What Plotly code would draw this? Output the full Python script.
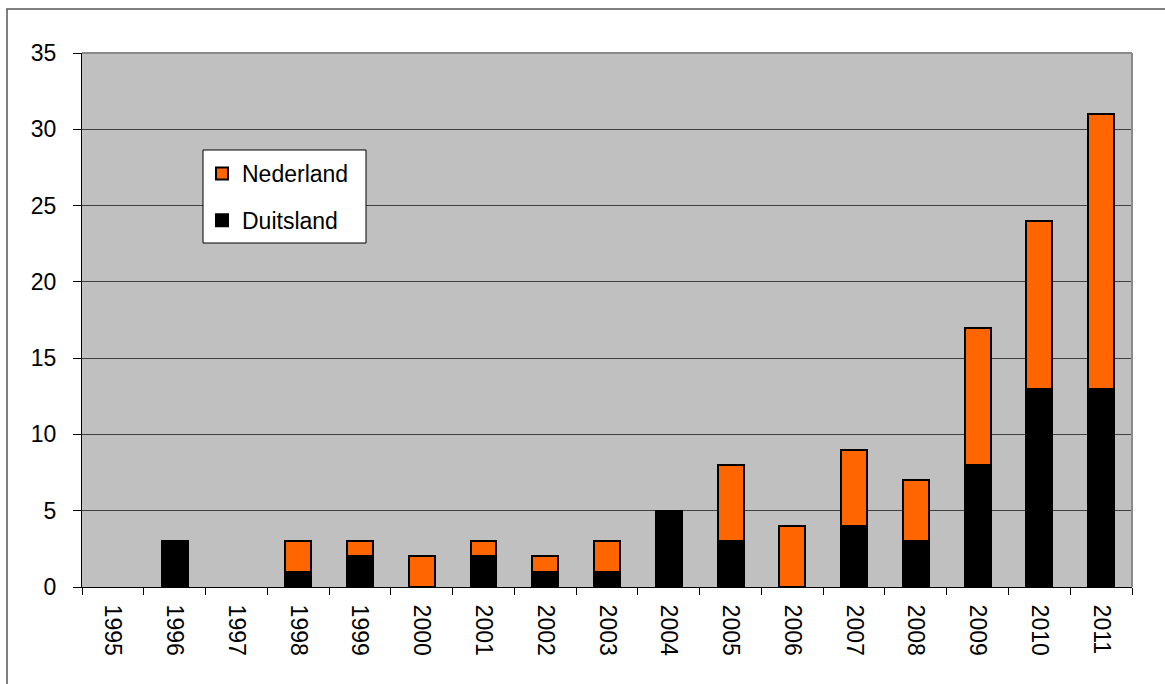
import plotly.graph_objects as go

years = [str(y) for y in range(1995, 2012)]
duitsland = [0, 3, 0, 1, 2, 0, 2, 1, 1, 5, 3, 0, 4, 3, 8, 13, 13]
nederland = [0, 0, 0, 2, 1, 2, 1, 1, 2, 0, 5, 4, 5, 4, 9, 11, 18]
y_ticks = [0, 5, 10, 15, 20, 25, 30, 35]

W, H = 1165, 684
L, R, T, B = 82, 1132, 53, 587

def px(x):
    return (x - L) / (R - L)

def py(y):
    return (B - y) / (B - T)

def nz(vals):
    # zero-height segments are not drawn (no stray outline)
    return [v if v else None for v in vals]

fig = go.Figure()
fig.add_trace(go.Bar(x=years, y=nz(duitsland), name="Duitsland",
                     marker=dict(color="#000000", line=dict(color="#000000", width=2)),
                     legendgroup="d", legendrank=2))
fig.add_trace(go.Bar(x=years, y=nz(nederland), name="Nederland",
                     marker=dict(color="#FF6600", line=dict(color="#000000", width=2)),
                     legendgroup="n", legendrank=1))

FS = 23
fig.update_layout(
    width=W, height=H,
    margin=dict(l=L, r=W - R, t=T, b=H - B, pad=0),
    barmode="stack", bargap=0.58,
    paper_bgcolor="white", plot_bgcolor="#C0C0C0",
    font=dict(family="Liberation Sans, Arial, sans-serif", size=FS, color="black"),
    showlegend=True,
    legend=dict(x=px(202), y=py(152), xanchor="left", yanchor="top",
                bgcolor="rgba(0,0,0,0)", borderwidth=0,
                traceorder="grouped", tracegroupgap=14,
                font=dict(size=FS)),
    xaxis=dict(type="category", tickangle=90, showline=True, linecolor="black",
               linewidth=1, ticks="outside", ticklen=7, tickcolor="black",
               tickson="boundaries", showgrid=False, ticklabelstandoff=12,
               fixedrange=True),
    yaxis=dict(range=[0, 35], tickvals=y_ticks, showline=True, linecolor="black",
               linewidth=1, ticks="outside", ticklen=8, tickcolor="black",
               showgrid=True, gridcolor="#404040", gridwidth=1, zeroline=False,
               ticklabelstandoff=12, fixedrange=True),
    shapes=[
        # plot area top and right border
        dict(type="line", xref="paper", yref="paper", x0=0, x1=1, y0=1, y1=1,
             line=dict(color="#8a8a8a", width=2)),
        dict(type="line", xref="paper", yref="paper", x0=1, x1=1, y0=0, y1=1,
             line=dict(color="#8a8a8a", width=2)),
        # legend box
        dict(type="rect", xref="paper", yref="paper", layer="above",
             x0=px(203), x1=px(366), y0=py(150), y1=py(243),
             fillcolor="white", line=dict(color="black", width=1)),
        # outer chart border
        dict(type="rect", xref="paper", yref="paper",
             x0=px(7), x1=px(W + 10), y0=py(9), y1=py(H + 10),
             line=dict(color="#555555", width=1.5)),
    ],
)

fig.write_html("out.html")
